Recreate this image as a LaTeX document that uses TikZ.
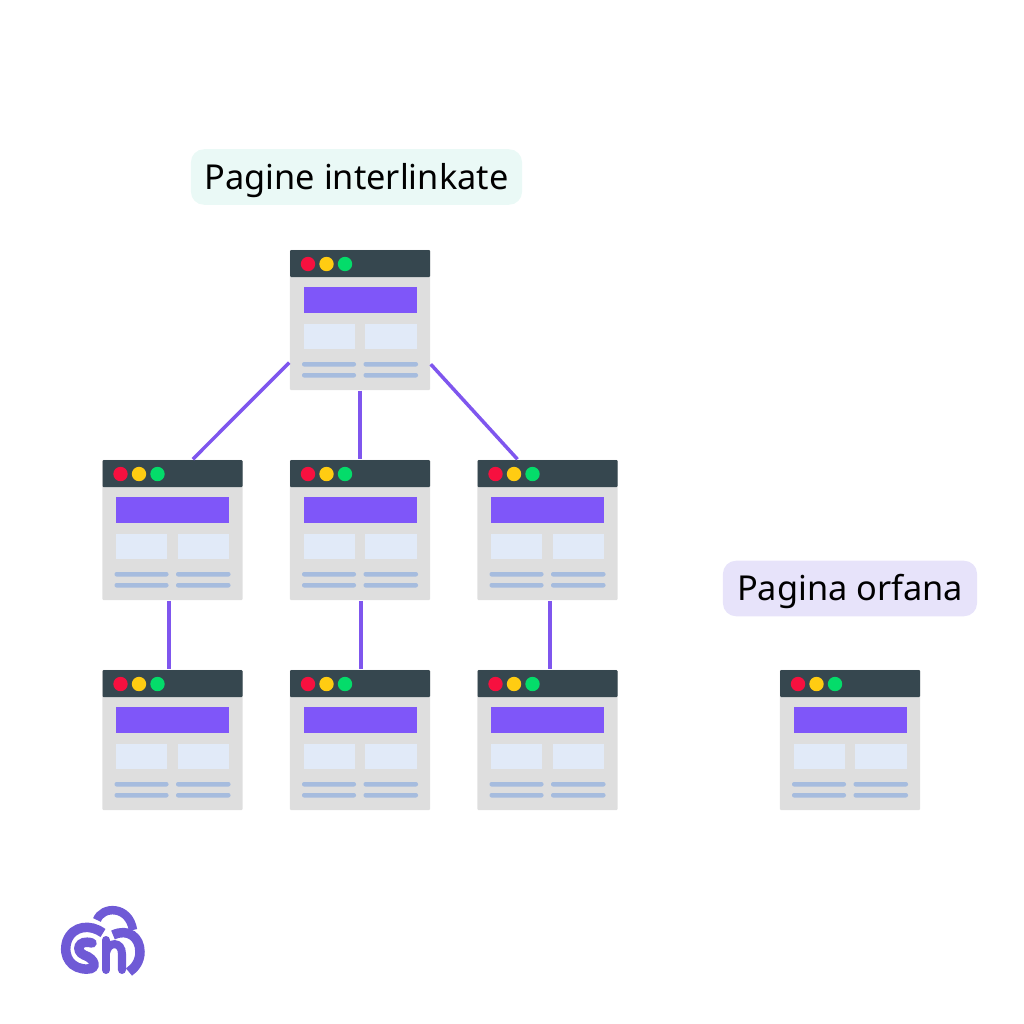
\documentclass[tikz,border=0pt]{standalone}
\usepackage{fontspec}
\setmainfont{Noto Sans}
\definecolor{barcol}{HTML}{36474F}
\definecolor{pagecol}{HTML}{DEDEDE}
\definecolor{headcol}{HTML}{7F56F9}
\definecolor{cardcol}{HTML}{E1EAF8}
\definecolor{rulecol}{HTML}{A6BCDE}
\definecolor{linkcol}{HTML}{7F56EE}
\definecolor{logocol}{HTML}{6F5AD6}
\definecolor{greentag}{HTML}{EAF9F6}
\definecolor{violettag}{HTML}{E7E3FA}
\definecolor{redlamp}{HTML}{F7103F}
\definecolor{yellowlamp}{HTML}{FFCC12}
\definecolor{greenlamp}{HTML}{04DC6A}
\tikzset{
  page/.style={fill=pagecol,minimum size=1.4cm,inner sep=0pt,rounded corners=0.01cm},
  link/.style={draw=linkcol,line width=0.035cm},
  tag/.style={rounded corners=0.13cm,inner sep=0pt,minimum height=0.555cm,text height=0.24cm,text depth=0pt,font=\fontsize{9.76}{12}\selectfont,text=black},
  logoline/.style={draw=logocol,line width=0.095cm}
}
\begin{document}
\begin{tikzpicture}[x=0.01cm,y=-0.01cm]
\useasboundingbox (0,0) rectangle (1024,1024);

\node[tag,fill=greentag,minimum width=3.31cm] (tag_a) at (356.5,177) {Pagine interlinkate};
\node[tag,fill=violettag,minimum width=2.54cm] (tag_b) at (850,588.5) {Pagina orfana};

\foreach \nm/\cx/\cy in {p_0/360/320,
    p_1/172.5/530,p_2/360/530,p_3/547.5/530,
    p_4/172.5/740,p_5/360/740,p_6/547.5/740,p_7/850/740}{
  \node[page] (\nm) at (\cx,\cy) {};
  \begin{scope}[shift={(\cx,\cy)}]
    \fill[barcol,rounded corners=0.01cm] (-70,-70) rectangle (70,-43);
    \fill[redlamp] (-52,-56) circle (7.2);
    \fill[yellowlamp] (-33.5,-56) circle (7.2);
    \fill[greenlamp] (-15,-56) circle (7.2);
    \fill[headcol] (-56.5,-33) rectangle (56.5,-7);
    \fill[cardcol] (-56.5,4) rectangle (-5.5,29);
    \fill[cardcol] (5,4) rectangle (56.5,29);
    \fill[rulecol,rounded corners=0.02cm] (-58,42) rectangle (-4,46.5);
    \fill[rulecol,rounded corners=0.02cm] (3.5,42) rectangle (58,46.5);
    \fill[rulecol,rounded corners=0.02cm] (-58,53) rectangle (-4,57.5);
    \fill[rulecol,rounded corners=0.02cm] (3.5,53) rectangle (58,57.5);
  \end{scope}
}

\draw[link] (p_0.211) -- (p_1.74);
\draw[link] (p_0.south) -- (p_2.north);
\draw[link] (p_0.-32) -- (p_3.113);
\draw[link] (p_1.267) -- (p_4.93);
\draw[link] (p_2.271) -- (p_5.89);
\draw[link] (p_3.272) -- (p_6.88);

% logo
\draw[logoline] (103,933) .. controls (91,924) and (73,925) .. (67,941) .. controls (62,957) and (72,970) .. (88,969);
\draw[logoline,line width=0.085cm] (97,920) .. controls (102,906) and (129,905) .. (133,930);
\draw[logoline,line cap=round] (92,943) .. controls (78,939) and (75,951) .. (84,955) .. controls (96,959) and (97,969) .. (88,969);
\draw[logoline,line width=0.08cm,line cap=round] (106,940) -- (106,970);
\draw[logoline,line width=0.08cm,line cap=round] (106,953) .. controls (108,941) and (122,941) .. (122,954) -- (122,970);
\draw[logoline] (113,935) .. controls (128,928) and (140,937) .. (140,952) .. controls (140,961) and (135,968) .. (129,972);
\end{tikzpicture}
\end{document}
